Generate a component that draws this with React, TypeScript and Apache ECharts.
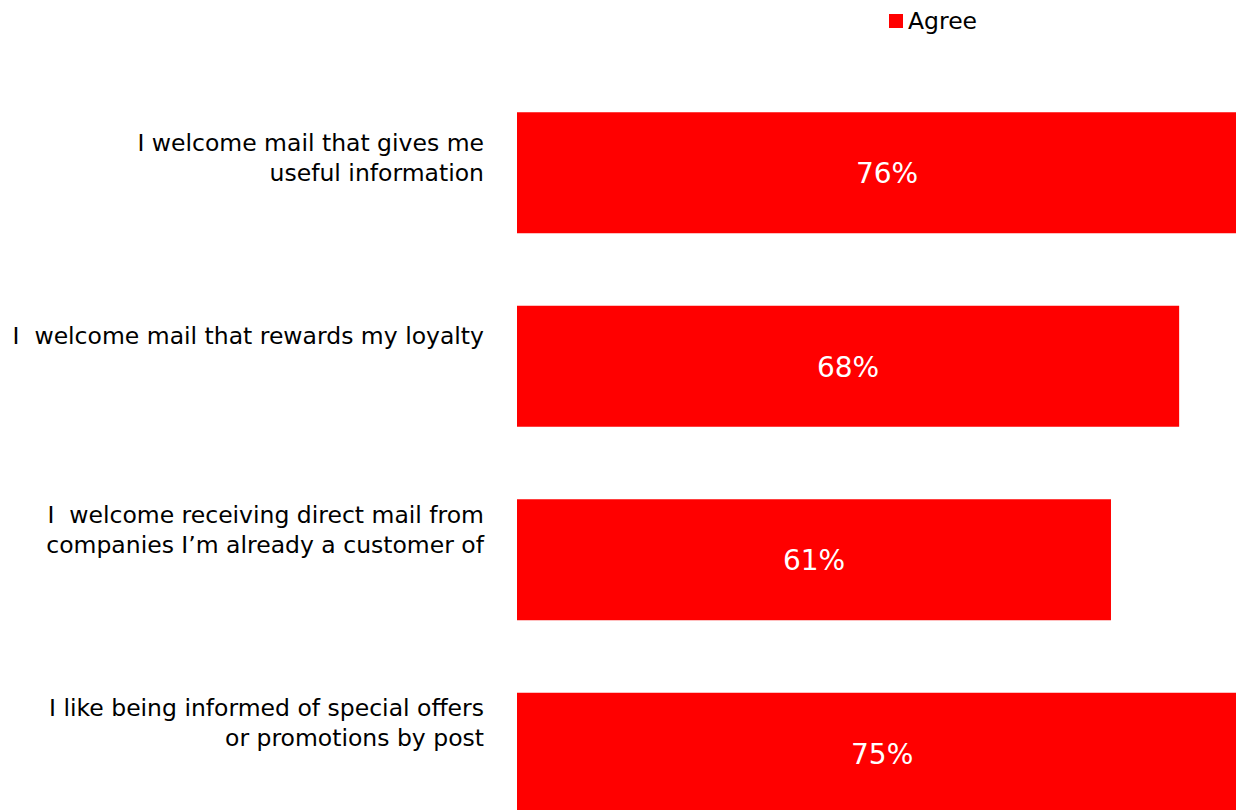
import React, { useEffect, useRef } from "react";
import * as echarts from "echarts";

const categories = [
  "I welcome mail that gives me\nuseful information\n ",
  "I  welcome mail that rewards my loyalty\n \n ",
  "I  welcome receiving direct mail from\ncompanies I\u2019m already a customer of\n \n ",
  "I like being informed of special offers\nor promotions by post\n \n ",
];
const seriesName = "Agree";
const agreeValues = [76, 68, 61, 75];

export default function App() {
  const ref = useRef<HTMLDivElement>(null);
  useEffect(() => {
    if (!ref.current) return;
    const chart = echarts.init(ref.current, null, { renderer: "svg" });
    const font = "DejaVu Sans";
    chart.setOption({
      animation: false,
      backgroundColor: "#ffffff",
      legend: {
        data: [seriesName],
        left: 884,
        top: 4,
        itemWidth: 14,
        itemHeight: 14,
        itemGap: 6,
        icon: "rect",
        textStyle: { fontFamily: font, fontSize: 23.5, color: "#000" },
      },
      grid: {
        left: 517,
        top: 76,
        width: 779,
        height: 774,
        containLabel: false,
        outerBoundsMode: "none",
      },
      xAxis: {
        type: "value",
        min: 0,
        max: 80,
        show: false,
      },
      yAxis: {
        type: "category",
        data: categories.map((c, i) =>
          i === 2 ? { value: c, textStyle: { padding: [0, 0, 8, 0] } } : c
        ),
        inverse: true,
        axisLine: { show: false },
        axisTick: { show: false },
        splitLine: { show: false },
        axisLabel: {
          margin: 33,
          fontFamily: font,
          fontSize: 23.5,
          lineHeight: 30,
          color: "#000",
          align: "right",
        },
      },
      series: [
        {
          name: seriesName,
          type: "bar",
          data: agreeValues,
          barCategoryGap: "37.5%",
          itemStyle: { color: "#ff0000" },
          clip: false,
          label: {
            show: true,
            position: "inside",
            formatter: "{c}%",
            color: "#ffffff",
            fontFamily: font,
            fontSize: 28,
            offset: [0, 1],
          },
        },
      ],
    });
    return () => chart.dispose();
  }, []);
  return (
    <div
      ref={ref}
      style={{ position: "fixed", left: 0, top: 0, width: 1236, height: 810 }}
    />
  );
}
